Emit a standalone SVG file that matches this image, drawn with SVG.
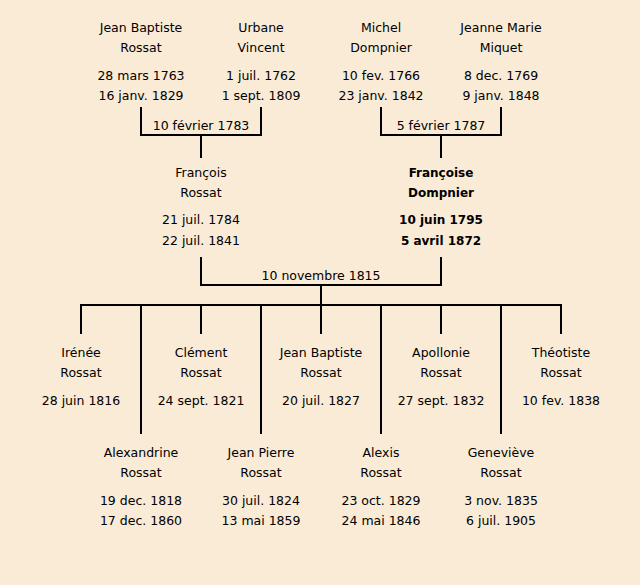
<svg xmlns="http://www.w3.org/2000/svg" width="640" height="585" viewBox="0 0 640 585">
<style>
text{font-family:"Comic Sans MS","DejaVu Sans",sans-serif;font-size:12.5px;fill:#000;text-anchor:middle}
.b{font-weight:bold;font-size:12px}
.c line{stroke:#000;stroke-width:2;stroke-linecap:square}
</style>
<rect width="640" height="585" fill="#FAEBD7"/>
<g class="c" id="connectors">
<line x1="141" y1="108" x2="141" y2="135"/><line x1="141" y1="135" x2="261" y2="135"/><line x1="261" y1="108" x2="261" y2="135"/><line x1="201" y1="135" x2="201" y2="157"/>
<line x1="381" y1="108" x2="381" y2="135"/><line x1="381" y1="135" x2="501" y2="135"/><line x1="501" y1="108" x2="501" y2="135"/><line x1="441" y1="135" x2="441" y2="157"/>
<line x1="201" y1="258" x2="201" y2="285"/><line x1="201" y1="285" x2="441" y2="285"/><line x1="441" y1="258" x2="441" y2="285"/><line x1="321" y1="285" x2="321" y2="305"/>
<line x1="81" y1="305" x2="561" y2="305"/>
<line x1="81" y1="305" x2="81" y2="333"/><line x1="201" y1="305" x2="201" y2="333"/><line x1="321" y1="305" x2="321" y2="333"/><line x1="441" y1="305" x2="441" y2="333"/><line x1="561" y1="305" x2="561" y2="333"/>
<line x1="141" y1="305" x2="141" y2="433"/><line x1="261" y1="305" x2="261" y2="433"/><line x1="381" y1="305" x2="381" y2="433"/><line x1="501" y1="305" x2="501" y2="433"/>
</g>
<g id="m1"><text x="201" y="130">10 février 1783</text></g>
<g id="m2"><text x="441" y="130">5 février 1787</text></g>
<g id="m3"><text x="321" y="280">10 novembre 1815</text></g>
<g id="jean-baptiste-sr"><text x="141" y="32">Jean Baptiste</text><text x="141" y="52">Rossat</text><text x="141" y="80">28 mars 1763</text><text x="141" y="100">16 janv. 1829</text></g>
<g id="urbane"><text x="261" y="32">Urbane</text><text x="261" y="52">Vincent</text><text x="261" y="80">1 juil. 1762</text><text x="261" y="100">1 sept. 1809</text></g>
<g id="michel"><text x="381" y="32">Michel</text><text x="381" y="52">Dompnier</text><text x="381" y="80">10 fev. 1766</text><text x="381" y="100">23 janv. 1842</text></g>
<g id="jeanne-marie"><text x="501" y="32">Jeanne Marie</text><text x="501" y="52">Miquet</text><text x="501" y="80">8 dec. 1769</text><text x="501" y="100">9 janv. 1848</text></g>
<g id="francois"><text x="201" y="177">François</text><text x="201" y="197">Rossat</text><text x="201" y="224">21 juil. 1784</text><text x="201" y="245">22 juil. 1841</text></g>
<g id="francoise"><text class="b" x="441" y="177">Françoise</text><text class="b" x="441" y="197">Dompnier</text><text class="b" x="441" y="224">10 juin 1795</text><text class="b" x="441" y="245">5 avril 1872</text></g>
<g id="irenee"><text x="81" y="357">Irénée</text><text x="81" y="377">Rossat</text><text x="81" y="405">28 juin 1816</text></g>
<g id="clement"><text x="201" y="357">Clément</text><text x="201" y="377">Rossat</text><text x="201" y="405">24 sept. 1821</text></g>
<g id="jean-baptiste-jr"><text x="321" y="357">Jean Baptiste</text><text x="321" y="377">Rossat</text><text x="321" y="405">20 juil. 1827</text></g>
<g id="apollonie"><text x="441" y="357">Apollonie</text><text x="441" y="377">Rossat</text><text x="441" y="405">27 sept. 1832</text></g>
<g id="theotiste"><text x="561" y="357">Théotiste</text><text x="561" y="377">Rossat</text><text x="561" y="405">10 fev. 1838</text></g>
<g id="alexandrine"><text x="141" y="457">Alexandrine</text><text x="141" y="477">Rossat</text><text x="141" y="505">19 dec. 1818</text><text x="141" y="525">17 dec. 1860</text></g>
<g id="jean-pierre"><text x="261" y="457">Jean Pierre</text><text x="261" y="477">Rossat</text><text x="261" y="505">30 juil. 1824</text><text x="261" y="525">13 mai 1859</text></g>
<g id="alexis"><text x="381" y="457">Alexis</text><text x="381" y="477">Rossat</text><text x="381" y="505">23 oct. 1829</text><text x="381" y="525">24 mai 1846</text></g>
<g id="genevieve"><text x="501" y="457">Geneviève</text><text x="501" y="477">Rossat</text><text x="501" y="505">3 nov. 1835</text><text x="501" y="525">6 juil. 1905</text></g>
</svg>
